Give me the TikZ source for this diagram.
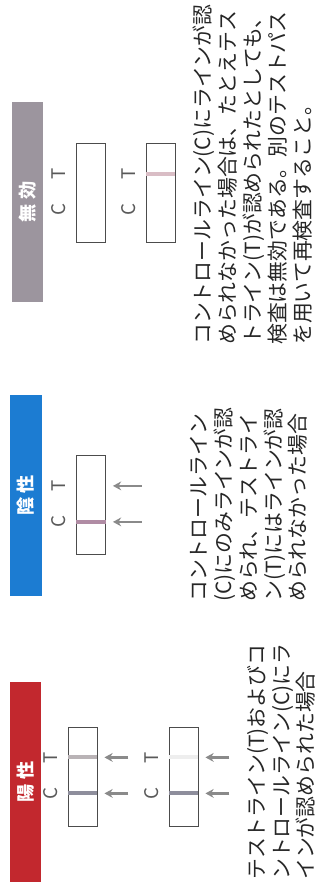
\documentclass[tikz,border=0pt]{standalone}
\usepackage{fontspec}
\setmainfont{Noto Sans CJK JP}
\usetikzlibrary{calc, arrows.meta}

\definecolor{posred}{HTML}{C2282E}
\definecolor{negblue}{HTML}{1C7CD2}
\definecolor{invgray}{HTML}{9C959E}
\definecolor{arrowgray}{HTML}{8A8A8A}
\definecolor{bandgray}{HTML}{8E8E9C}
\definecolor{bandlight}{HTML}{B9B3B6}
\definecolor{bandpink}{HTML}{B08CA4}
\definecolor{bandrose}{HTML}{D9BDC5}
\definecolor{bandfaint}{HTML}{EEEEEE}

\begin{document}
\begin{tikzpicture}[x=0.03cm, y=0.03cm, rotate=90, transform shape,
    head/.style = {fill=#1, text=white, minimum width=6cm, minimum height=0.93cm, inner sep=0pt, font=\fontsize{15.5}{15.5}\selectfont\bfseries},
    strip/.style = {draw=black!70, line width=0.7pt, minimum width=2.97cm, minimum height=0.87cm, inner sep=0pt},
    lbl/.style = {text=black!65, inner sep=0pt, font=\fontsize{16}{16}\selectfont},
    band/.style = {line width=3.4pt},
    hint/.style = {draw=arrowgray, line width=2.2pt, -{Stealth[length=7pt, width=7.5pt]}, shorten >=6pt},
    desc/.style = {anchor=north west, align=left, inner sep=0pt, text=black!85, font=\fontsize{17.8}{21.2}\selectfont}]
    \useasboundingbox (0,0) rectangle (887,-322);
    % headers
    \node[head=posred] (pos) at (105,-25.5) {陽 性};
    \node[head=negblue] (neg) at (391.5,-26) {陰 性};
    \node[head=invgray] (inv) at (685,-27.5) {無 効};
    % test strips
    \node[strip] (p1) at (110.5,-82.5) {};
    \node[strip] (p2) at (110.5,-183.5) {};
    \node[strip] (n1) at (382,-91) {};
    \node[strip] (i1) at (694,-91) {};
    \node[strip] (i2) at (694,-160.5) {};
    % lines on the strips
    \draw[band, draw=bandlight] ($(p1.north west)+(69,0)$) -- ($(p1.south west)+(69,0)$);
    \draw[band, draw=bandgray] ($(p1.north west)+(33,0)$) -- ($(p1.south west)+(33,0)$);
    \draw[band, draw=bandfaint] ($(p2.north west)+(69,0)$) -- ($(p2.south west)+(69,0)$);
    \draw[band, draw=bandgray] ($(p2.north west)+(33,0)$) -- ($(p2.south west)+(33,0)$);
    \draw[band, draw=bandpink] ($(n1.north west)+(33,0)$) -- ($(n1.south west)+(33,0)$);
    \draw[band, draw=bandrose] ($(i2.north west)+(69,0)$) -- ($(i2.south west)+(69,0)$);
    % C and T labels
    \node[lbl] (p1c) at ($(p1.north west)+(33,17)$) {C};
    \node[lbl] (p1t) at ($(p1.north west)+(69,17)$) {T};
    \node[lbl] (p2c) at ($(p2.north west)+(33,17)$) {C};
    \node[lbl] (p2t) at ($(p2.north west)+(69,17)$) {T};
    \node[lbl] (n1c) at ($(n1.north west)+(33,17)$) {C};
    \node[lbl] (n1t) at ($(n1.north west)+(69,17)$) {T};
    \node[lbl] (i1c) at ($(i1.north west)+(33,17)$) {C};
    \node[lbl] (i1t) at ($(i1.north west)+(69,17)$) {T};
    \node[lbl] (i2c) at ($(i2.north west)+(33,17)$) {C};
    \node[lbl] (i2t) at ($(i2.north west)+(69,17)$) {T};
    % arrows
    \draw[hint] ($(p1.south west)+(33,-31)$) -- ($(p1.south west)+(33,0)$);
    \draw[hint] ($(p1.south west)+(69,-31)$) -- ($(p1.south west)+(69,0)$);
    \draw[hint] ($(p2.south west)+(33,-31)$) -- ($(p2.south west)+(33,0)$);
    \draw[hint] ($(p2.south west)+(69,-31)$) -- ($(p2.south west)+(69,0)$);
    \draw[hint] ($(n1.south west)+(33,-36)$) -- ($(n1.south west)+(33,0)$);
    \draw[hint] ($(n1.south west)+(69,-36)$) -- ($(n1.south west)+(69,0)$);
    % descriptions
    \node[desc] (pt) at (7,-247) {テストライン(T)およびコ\\ントロールライン(C)にラ\\インが認められた場合};
    \node[desc] (nt) at (285,-190) {コントロールライン\\(C)にのみラインが認\\められ、テストライ\\ン(T)にはラインが認\\められなかった場合};
    \node[desc] (it) at (542,-193) {コントロールライン(C)にラインが認\\められなかった場合は、たとえテス\\トライン(T)が認められたとしても、\\検査は無効である。別のテストパス\\を用いて再検査すること。};
\end{tikzpicture}
\end{document}
